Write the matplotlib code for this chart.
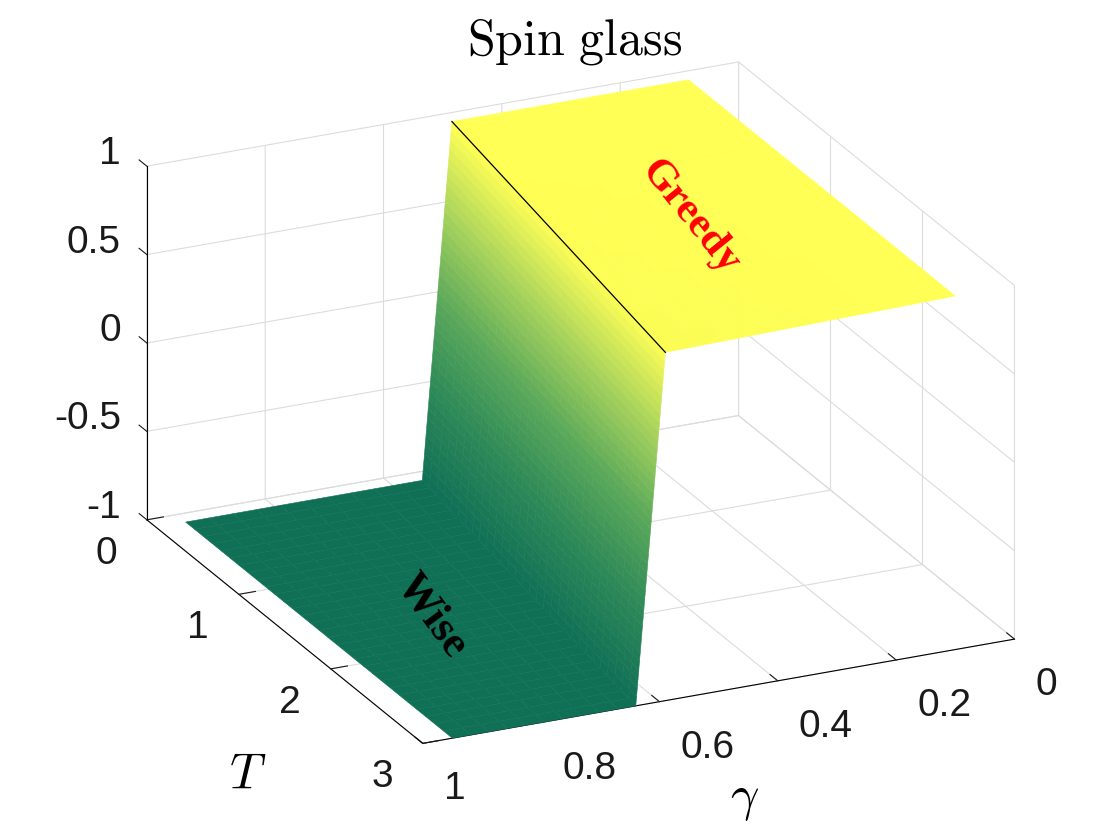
import numpy as np
import matplotlib
matplotlib.use('Agg')
import matplotlib.pyplot as plt
from matplotlib.colors import LinearSegmentedColormap
from mpl_toolkits.mplot3d import proj3d, axis3d
from mpl_toolkits.mplot3d.art3d import Poly3DCollection

plt.rcParams['axes.unicode_minus'] = False
plt.rcParams['mathtext.fontset'] = 'cm'
plt.rcParams['font.family'] = ['Liberation Sans', 'DejaVu Sans']
plt.rcParams['grid.color'] = '#dcdcdc'
plt.rcParams['grid.linewidth'] = 0.8

# z ticks should point along T (as in the reference)
try:
    axis3d.Axis._AXINFO['z']['tickdir'] = 1
except Exception:
    pass

# ---------------- data ----------------
gamma_ticks = [0, 0.2, 0.4, 0.6, 0.8, 1]
gamma_ticklabels = ['0', '0.2', '0.4', '0.6', '0.8', '1']
T_ticks = [0, 1, 2, 3]
T_ticklabels = ['0', '1', '2', '3']
z_ticks = [-1, -0.5, 0, 0.5, 1]
z_ticklabels = ['-1', '-0.5', '0', '0.5', '1']

gamma_range = [0.10, 0.95]      # extent of the surface in gamma
T_range = [0.10, 3.00]          # extent of the surface in T
gamma_crest = [0.50, 0.59]      # top of the step at T_range[0], T_range[1]
gamma_base = [0.55, 0.64]       # bottom of the step at T_range[0], T_range[1]
z_crest = [1.00, 0.97]          # height at top of the step
z_greedy = 1.0                  # plateau value (greedy phase)
z_wise = -1.0                   # plateau value (wise phase)

cmap_colors = ['#107056', '#2c8858', '#58a75a', '#a6d25c', '#ffff55']

# ---------------- mesh for rendering ----------------
nT, n1, n2, n3 = 30, 10, 40, 10
tt = np.linspace(0, 1, nT + 1)
Tg = T_range[0] + tt * (T_range[1] - T_range[0])
gc = gamma_crest[0] + tt * (gamma_crest[1] - gamma_crest[0])
gb = gamma_base[0] + tt * (gamma_base[1] - gamma_base[0])
zc = z_crest[0] + tt * (z_crest[1] - z_crest[0])
s1 = np.linspace(0, 1, n1 + 1)
s2 = np.linspace(0, 1, n2 + 1)[1:]
s3 = np.linspace(0, 1, n3 + 1)[1:]
g0, g1 = gamma_range
X = np.hstack([g0 + np.outer(gc - g0, s1),
               gc[:, None] + np.outer(gb - gc, s2),
               gb[:, None] + np.outer(g1 - gb, s3)])
Z = np.hstack([z_greedy + np.outer(zc - z_greedy, s1),
               zc[:, None] + np.outer(z_wise - zc, s2),
               np.full((nT + 1, n3), z_wise)])
Y = np.repeat(Tg[:, None], X.shape[1], axis=1)

cmap = LinearSegmentedColormap.from_list('sg', cmap_colors)

verts, cols = [], []
for i in range(X.shape[0] - 1):
    for j in range(X.shape[1] - 1):
        quad = [(X[i, j], Y[i, j], Z[i, j]), (X[i, j + 1], Y[i, j + 1], Z[i, j + 1]),
                (X[i + 1, j + 1], Y[i + 1, j + 1], Z[i + 1, j + 1]),
                (X[i + 1, j], Y[i + 1, j], Z[i + 1, j])]
        verts.append(quad)
        zm = np.mean([q[2] for q in quad])
        cols.append(cmap((zm + 1) / 2))

W, H = 1120, 840
fig = plt.figure(figsize=(W / 100, H / 100), dpi=100)
ax = fig.add_axes([0.1, 0.1, 0.8, 0.8], projection='3d', computed_zorder=False)
ax.set_proj_type('ortho')
ax.view_init(elev=22.2, azim=65.0)
ax.set_box_aspect((1, 1, 0.585))

surf = Poly3DCollection(verts, facecolors=cols, edgecolors=cols, linewidths=0.4,
                        zorder=1)
ax.add_collection3d(surf)
ax.plot(gamma_crest, T_range, z_crest, color='black', lw=0.9, zorder=3)

ax.set_xlim(0, 1)
ax.set_ylim(0, 3)
ax.set_zlim(-1, 1)
ax.set_xticks(gamma_ticks)
ax.set_yticks(T_ticks)
ax.set_zticks(z_ticks)
ax.set_xticklabels([''] * len(gamma_ticks))
ax.set_yticklabels([''] * len(T_ticks))
ax.set_zticklabels([''] * len(z_ticks))

for axis in (ax.xaxis, ax.yaxis, ax.zaxis):
    axis.set_pane_color((1, 1, 1, 1))
    axis.line.set_color('black')
    axis.line.set_linewidth(0.8)
    axis._axinfo['tick']['inward_factor'] = 0.0
    axis._axinfo['tick']['outward_factor'] = 0.35
ax.tick_params(axis='both', colors='#1a1a1a')
ax.tick_params(axis='z', colors='#1a1a1a')

# ---- fit the axes box onto the reference frame ----
def to_px(x, y, z):
    xs, ys, _ = proj3d.proj_transform(x, y, z, ax.M)
    return ax.transData.transform((xs, ys))

fig.canvas.draw()
pts3 = [(1, 0, -1), (0, 3, -1), (1, 3, -1), (0, 0, 1), (1, 0, 1), (0, 3, 1)]
tgt = [(147, 520), (1015, 639), (422, 743), (738, 63), (147, 166), (1015, 285)]
bb = ax.get_position()
A0 = np.array([bb.x0 * W, bb.y0 * H])
w = bb.width * W
P = np.array([to_px(*p) for p in pts3])
Q = np.array([(tx, H - ty) for tx, ty in tgt])
A, b = [], []
for i in range(len(P)):
    A.append([P[i, 0] - A0[0], 1, 0]); b.append(Q[i, 0])
    A.append([P[i, 1] - A0[1], 0, 1]); b.append(Q[i, 1])
s, Bx, By = np.linalg.lstsq(np.array(A), np.array(b), rcond=None)[0]
ax.set_position([Bx / W, By / H, s * w / W, s * w / H])
fig.canvas.draw()

# ---- tick labels placed MATLAB-style next to the projected ticks ----
tick_fs = 28
half_digit = 14  # px, half of the digit height at this font size
for v, lab in zip(z_ticks, z_ticklabels):
    px, py = to_px(1, 0, v)
    fig.text((px - 26) / W, (py + 16 - half_digit) / H, lab, ha='right',
             va='baseline', fontsize=tick_fs, color='#1a1a1a')
for v, lab in zip(T_ticks, T_ticklabels):
    px, py = to_px(1, v, -1)
    fig.text((px - 30) / W, (py - 30 - half_digit) / H, lab, ha='right',
             va='baseline', fontsize=tick_fs, color='#1a1a1a')
for v, lab in zip(gamma_ticks, gamma_ticklabels):
    px, py = to_px(v, 3, -1)
    fig.text((px + 21) / W, (py - 42 - half_digit) / H, lab, ha='left',
             va='baseline', fontsize=tick_fs, color='#1a1a1a')

# ---- texts ----
fig.text(575 / W, 1 - 42 / H, r'$\mathrm{Spin\ glass}$', fontsize=36,
         ha='center', va='center')
fig.text(248 / W, 1 - 775 / H, r'$T$', fontsize=36, ha='center', va='center')
fig.text(745 / W, 1 - 800 / H, r'$\gamma$', fontsize=36, ha='center', va='center')
fig.text(690 / W, 1 - 218 / H, 'Greedy', color='red', fontsize=31,
         fontweight='bold', family='Liberation Serif', rotation=-51,
         ha='center', va='center', rotation_mode='anchor')
fig.text(431 / W, 1 - 616 / H, 'Wise', color='black', fontsize=32,
         fontweight='bold', family='Liberation Serif', rotation=-54,
         ha='center', va='center', rotation_mode='anchor')

fig.savefig('out.png', dpi=100)
